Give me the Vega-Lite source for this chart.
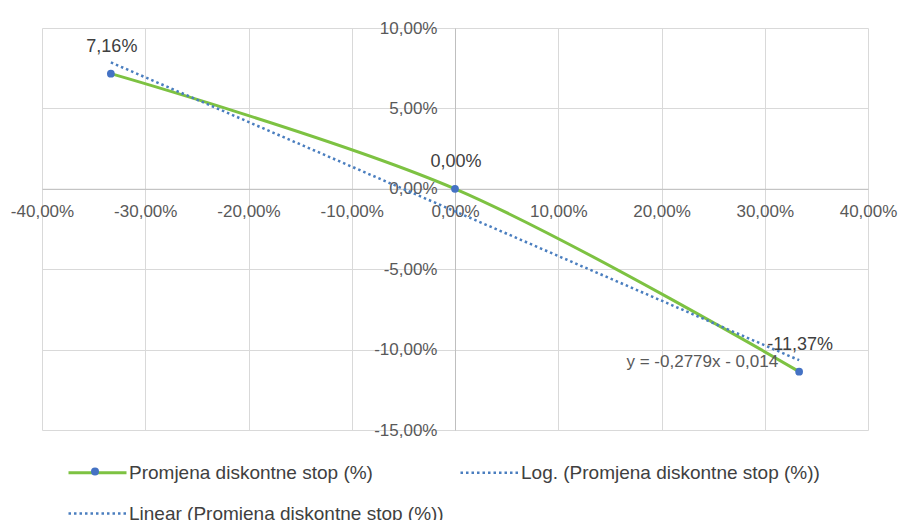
{
  "$schema": "https://vega.github.io/schema/vega-lite/v6.json",
  "width": 826,
  "height": 402,
  "autosize": {"type": "none"},
  "padding": {"left": 42, "top": 28, "right": 34, "bottom": 90},
  "background": "white",
  "config": {"view": {"stroke": null}, "font": "Liberation Sans"},
  "datasets": {
    "pts": [
      {"series": "Promjena diskontne stop (%)", "x": -0.3333, "y": 0.0716, "label": "7,16%"},
      {"series": "Promjena diskontne stop (%)", "x": 0, "y": 0, "label": "0,00%"},
      {"series": "Promjena diskontne stop (%)", "x": 0.3333, "y": -0.1137, "label": "-11,37%"}
    ],
    "trend": [
      {"series": "Linear (Promjena diskontne stop (%))", "x": -0.3333, "y": 0.0786},
      {"series": "Linear (Promjena diskontne stop (%))", "x": 0.3333, "y": -0.1066}
    ],
    "eq": [
      {"x": 0.313, "y": -0.1076, "text": "y = -0,2779x - 0,014"}
    ]
  },
  "encoding": {
    "x": {
      "field": "x", "type": "quantitative",
      "scale": {"domain": [-0.4, 0.4], "nice": false, "zero": false},
      "axis": {
        "orient": "bottom", "offset": -241.2, "title": null,
        "values": [-0.4, -0.3, -0.2, -0.1, 0, 0.1, 0.2, 0.3, 0.4],
        "labelExpr": "replace(replace(format(datum.value*100, '.2f'), '.', ','), '\u2212', '-') + '%'",
        "grid": true, "gridColor": "#d9d9d9", "gridWidth": 1,
        "domainColor": "#bfbfbf", "domainWidth": 1,
        "ticks": false, "tickSize": 0, "labelPadding": 15,
        "labelFontSize": 17, "labelColor": "#595959",
        "labelFlush": false, "labelOverlap": false
      }
    },
    "y": {
      "field": "y", "type": "quantitative",
      "scale": {"domain": [-0.15, 0.1], "nice": false, "zero": false},
      "axis": {
        "orient": "left", "offset": -413, "title": null,
        "values": [-0.15, -0.1, -0.05, 0, 0.05, 0.1],
        "labelExpr": "replace(replace(format(datum.value*100, '.2f'), '.', ','), '\u2212', '-') + '%'",
        "grid": true, "gridColor": "#d9d9d9", "gridWidth": 1,
        "domainColor": "#bfbfbf", "domainWidth": 1,
        "ticks": false, "tickSize": 0, "labelPadding": 18,
        "labelFontSize": 17, "labelColor": "#595959",
        "labelFlush": false, "labelOverlap": false
      }
    }
  },
  "layer": [
    {
      "data": {"name": "pts"},
      "mark": {"type": "line", "interpolate": "catmull-rom", "strokeWidth": 3},
      "encoding": {
        "color": {
          "field": "series", "type": "nominal",
          "sort": ["Promjena diskontne stop (%)", "Linear (Promjena diskontne stop (%))", "Log. (Promjena diskontne stop (%))"],
          "scale": {
            "domain": ["Promjena diskontne stop (%)", "Linear (Promjena diskontne stop (%))", "Log. (Promjena diskontne stop (%))"],
            "range": ["#7dc242", "#4a7ebf", "#4a7ebf"]
          },
          "legend": {
            "orient": "none", "legendX": 46, "legendY": 435,
            "columns": 2, "columnPadding": 11, "rowPadding": 21, "padding": 0,
            "title": null, "labelFontSize": 19, "labelColor": "#404040", "labelLimit": 500,
            "symbolSize": 3364, "labelOffset": 22, "symbolType": "stroke",
            "encode": {
              "symbols": {
                "update": {
                  "strokeDash": {"signal": "datum.value === 'Promjena diskontne stop (%)' ? [1, 0] : [2.5, 3]"},
                  "strokeWidth": {"signal": "datum.value === 'Promjena diskontne stop (%)' ? 3 : 2.5"},
                  "opacity": {"value": 1}
                }
              }
            }
          }
        }
      }
    },
    {
      "data": {"name": "trend"},
      "mark": {"type": "line", "strokeDash": [2.5, 3], "strokeWidth": 2.5},
      "encoding": {
        "color": {
          "field": "series", "type": "nominal",
          "sort": ["Promjena diskontne stop (%)", "Linear (Promjena diskontne stop (%))", "Log. (Promjena diskontne stop (%))"]
        }
      }
    },
    {
      "data": {"name": "pts"},
      "mark": {"type": "point", "filled": true, "size": 60, "opacity": 1},
      "encoding": {
        "fill": {
          "field": "series", "type": "nominal",
          "scale": {"domain": ["Promjena diskontne stop (%)"], "range": ["#4472c4"]},
          "legend": {
            "orient": "none", "legendX": 49, "legendY": 439.5, "padding": 0,
            "title": null, "labelExpr": "''", "labelFontSize": 1, "labelOffset": 0,
            "symbolType": "circle", "symbolSize": 64, "symbolStrokeWidth": 0, "symbolOpacity": 1
          }
        }
      }
    },
    {
      "data": {"name": "pts"},
      "mark": {"type": "text", "dy": -27, "dx": 1, "fontSize": 18, "color": "#404040"},
      "encoding": {"text": {"field": "label"}}
    },
    {
      "data": {"name": "eq"},
      "mark": {"type": "text", "align": "right", "fontSize": 17, "color": "#595959"},
      "encoding": {"text": {"field": "text"}}
    }
  ]
}
